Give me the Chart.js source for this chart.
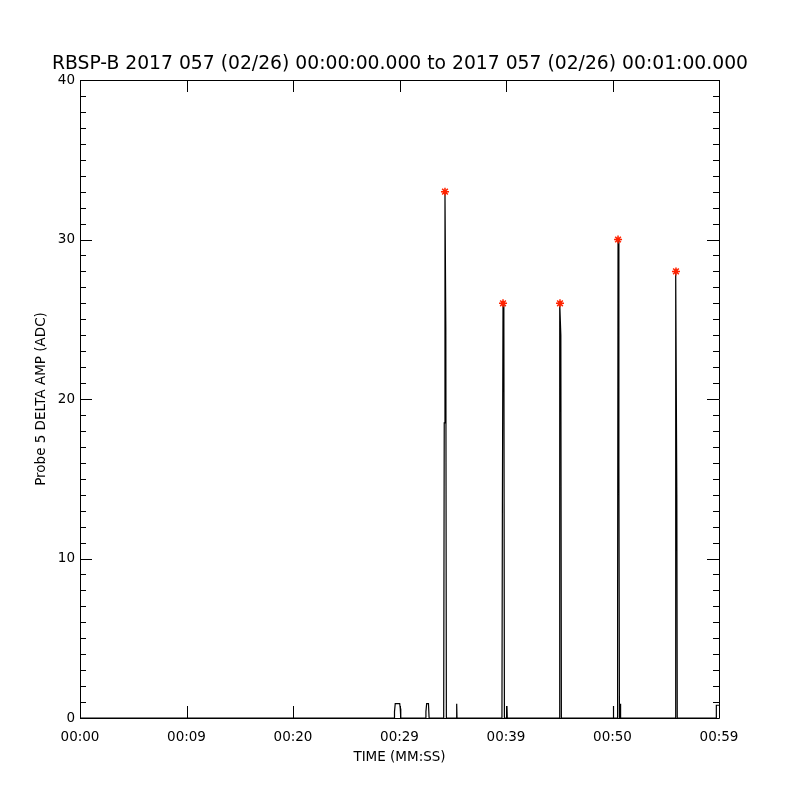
<!DOCTYPE html>
<html>
<head>
<meta charset="utf-8">
<script src="https://cdn.jsdelivr.net/npm/chart.js@4.4.0/dist/chart.umd.min.js"></script>
<style>
  html, body { margin: 0; padding: 0; background: #ffffff; }
</style>
</head>
<body>
<canvas id="probeChart" width="800" height="800"></canvas>
<script>
/* --------------- Data --------------------------------------- */
// time in seconds after 00:00:00.000
const sampleTimes = [
  0, 29.5, 29.53, 29.6, 30.02, 30.07, 30.12,
  32.45, 32.48, 32.55, 32.72, 32.78,
  34.15, 34.2, 34.27, 34.35, 34.4,
  35.34, 35.37, 35.4,
  39.62, 39.66, 39.72, 39.8, 39.85,
  40.06, 40.09, 40.12,
  44.98, 45.02, 45.07, 45.15, 45.2,
  50.05, 50.08, 50.11,
  50.45, 50.48, 50.52, 50.6, 50.65,
  50.7, 50.73, 50.76,
  55.87, 55.91, 55.96, 56.04, 56.08,
  59.72, 59.75, 60
];
const deltaAmp = [
  0, 0, 0.4, 0.9, 0.9, 0.6, 0,
  0, 0.4, 0.9, 0.9, 0,
  0, 18.5, 33, 24.5, 0,
  0, 0.9, 0,
  0, 13, 26, 24.9, 0,
  0, 0.75, 0,
  0, 11, 26, 24, 0,
  0, 0.75, 0,
  0, 7.4, 30, 16, 0,
  0, 0.9, 0,
  0, 9.4, 28, 14, 0,
  0, 0.8, 0.8
];
// peaks marked with red asterisks
const peakTimes = [34.27, 39.72, 45.07, 50.52, 55.96];
const peakAmps = [33, 26, 26, 30, 28];

const xTickValues = [0, 10, 20, 30, 40, 50, 60];
const xTickLabels = ["00:00", "00:09", "00:20", "00:29", "00:39", "00:50", "00:59"];
const yTickValues = [0, 10, 20, 30, 40];

const titleText = "RBSP-B 2017 057 (02/26) 00:00:00.000 to 2017 057 (02/26) 00:01:00.000";

/* --------------- Frame + inward ticks, IDL style --------------------- */
const frameTicks = {
  id: "frameTicks",
  afterDraw(chart) {
    const { ctx, chartArea: a } = chart;
    const xs = chart.scales.x;
    const ys = chart.scales.y;
    ctx.save();
    ctx.strokeStyle = "#000";
    ctx.lineWidth = 1;
    ctx.beginPath();
    ctx.rect(a.left + 0.5, a.top + 0.5, a.right - a.left, a.bottom - a.top);
    // y minor ticks every unit, major every 10
    for (let v = ys.min; v <= ys.max; v++) {
      const py = Math.round(ys.getPixelForValue(v)) + 0.5;
      const len = yTickValues.includes(v) ? 12 : 6;
      ctx.moveTo(a.left, py); ctx.lineTo(a.left + len, py);
      ctx.moveTo(a.right, py); ctx.lineTo(a.right - len, py);
    }
    // x major ticks only
    for (const v of xTickValues) {
      const px = Math.round(xs.getPixelForValue(v)) + 0.5;
      ctx.moveTo(px, a.bottom); ctx.lineTo(px, a.bottom - 12);
      ctx.moveTo(px, a.top); ctx.lineTo(px, a.top + 12);
    }
    ctx.stroke();
    ctx.restore();
  }
};

/* --------------- Chart --------------------- */
const fontFamily = "'DejaVu Sans', sans-serif";
const probeChart = new Chart(document.getElementById("probeChart"), {
  type: "line",
  plugins: [frameTicks],
  data: {
    datasets: [
      {
        type: "scatter",
        data: peakTimes.map((t, i) => ({ x: t, y: peakAmps[i] })),
        pointStyle: "star",
        pointRadius: 4,
        pointBorderColor: "#ff2200",
        pointBackgroundColor: "#ff2200",
        pointBorderWidth: 1.5,
        showLine: false,
      },
      {
        data: sampleTimes.map((t, i) => ({ x: t, y: deltaAmp[i] })),
        borderColor: "#000000",
        borderWidth: 1.2,
        pointRadius: 0,
        tension: 0,
        fill: false,
      },
    ],
  },
  options: {
    responsive: false,
    animation: false,
    layout: { padding: 0 },
    plugins: {
      legend: { display: false },
      tooltip: { enabled: false },
      title: {
        display: true,
        text: titleText,
        color: "#000",
        font: { family: fontFamily, size: 18.75, weight: "normal" },
        padding: { top: 53, bottom: 4.5 },
      },
    },
    scales: {
      x: {
        type: "linear",
        min: 0,
        max: 60,
        afterFit: (scale) => { scale.height = 82; },
        afterBuildTicks: (scale) => { scale.ticks = xTickValues.map((v) => ({ value: v })); },
        grid: { display: false, drawTicks: false },
        border: { display: false },
        ticks: {
          padding: 11,
          color: "#000",
          maxRotation: 0,
          font: { family: fontFamily, size: 13.5 },
          callback: (value, index) => xTickLabels[index],
        },
        title: {
          display: true,
          text: "TIME (MM:SS)",
          color: "#000",
          font: { family: fontFamily, size: 13.5 },
          padding: { top: 0, bottom: 34 },
        },
      },
      y: {
        min: 0,
        max: 40,
        afterFit: (scale) => { scale.width = 80; },
        afterBuildTicks: (scale) => { scale.ticks = yTickValues.map((v) => ({ value: v })); },
        grid: { display: false, drawTicks: false },
        border: { display: false },
        ticks: {
          padding: 5,
          color: "#000",
          font: { family: fontFamily, size: 13.5 },
        },
        title: {
          display: true,
          text: "Probe 5 DELTA AMP (ADC)",
          color: "#000",
          font: { family: fontFamily, size: 13.5 },
          padding: { top: 33, bottom: 0 },
        },
      },
      // empty right-hand box so the plot ends where the reference does
      yRight: {
        position: "right",
        min: 0,
        max: 40,
        afterFit: (scale) => { scale.width = 81; },
        grid: { display: false, drawTicks: false },
        border: { display: false },
        ticks: { display: false },
      },
    },
  },
});
</script>
</body>
</html>
